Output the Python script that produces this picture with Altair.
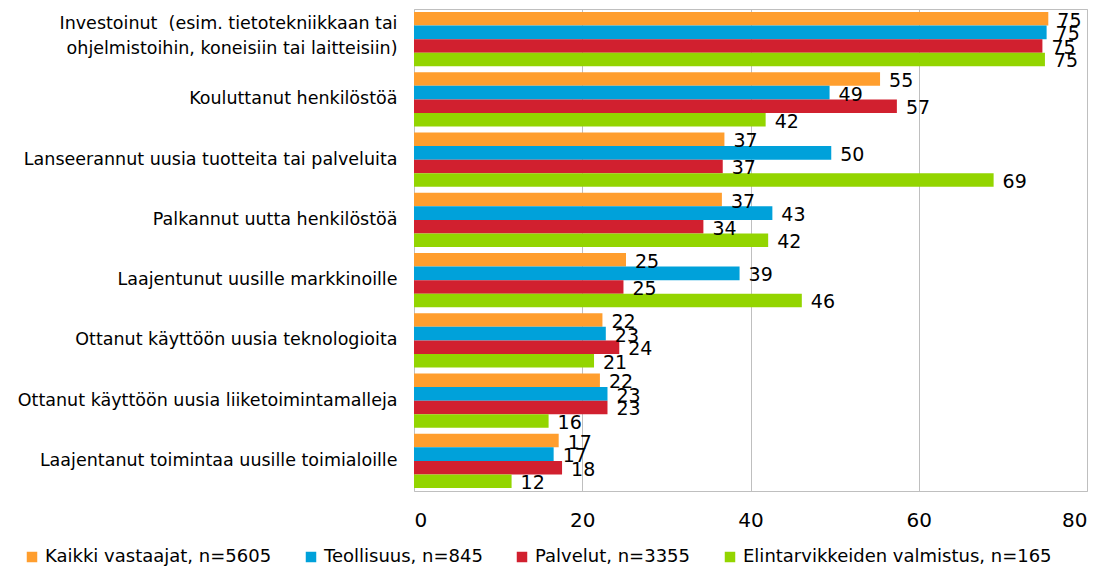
import altair as alt
import pandas as pd

categories = [
    "Investoinut\u00a0 (esim. tietotekniikkaan tai|ohjelmistoihin, koneisiin tai laitteisiin)",
    "Kouluttanut henkilöstöä",
    "Lanseerannut uusia tuotteita tai palveluita",
    "Palkannut uutta henkilöstöä",
    "Laajentunut uusille markkinoille",
    "Ottanut käyttöön uusia teknologioita",
    "Ottanut käyttöön uusia liiketoimintamalleja",
    "Laajentanut toimintaa uusille toimialoille",
]
series_names = [
    "Kaikki vastaajat, n=5605",
    "Teollisuus, n=845",
    "Palvelut, n=3355",
    "Elintarvikkeiden valmistus, n=165",
]
kaikki = [75.4, 55.4, 36.9, 36.6, 25.2, 22.4, 22.1, 17.2]
teollisuus = [75.2, 49.4, 49.6, 42.6, 38.7, 22.8, 23.0, 16.6]
palvelut = [74.7, 57.4, 36.7, 34.4, 24.9, 24.4, 23.0, 17.6]
elintarvike = [75.0, 41.8, 68.9, 42.1, 46.1, 21.4, 16.0, 11.6]
colors = ["#FF9E2E", "#00A1DA", "#D1202F", "#93D500"]

rows = []
for s, vals in zip(series_names, [kaikki, teollisuus, palvelut, elintarvike]):
    for c, v in zip(categories, vals):
        rows.append({"category": c, "series": s, "value": v})
df = pd.DataFrame(rows)

FONT = "DejaVu Sans"

base = alt.Chart(df).encode(
    y=alt.Y(
        "category:N",
        sort=categories,
        title=None,
        scale=alt.Scale(paddingInner=0.1, paddingOuter=0.05),
        axis=alt.Axis(
            labelExpr="split(datum.label, '|')",
            labelFontSize=17.5,
            labelFont=FONT,
            labelColor="#000000",
            labelLimit=0,
            labelPadding=17,
            labelLineHeight=25,
            labelOffset={
                "condition": {"test": "indexof(datum.value, '|') >= 0", "value": -15},
                "value": 0,
            },
            ticks=False,
            domain=False,
            grid=False,
        ),
    ),
    yOffset=alt.YOffset(
        "series:N", sort=series_names, scale=alt.Scale(paddingInner=0, paddingOuter=0)
    ),
    x=alt.X(
        "value:Q",
        title=None,
        scale=alt.Scale(domain=[0, 80], nice=False),
        axis=alt.Axis(
            values=[0, 20, 40, 60, 80],
            labelFontSize=20,
            labelFont=FONT,
            labelColor="#000000",
            labelPadding=19,
            ticks=False,
            domain=False,
            grid=True,
            gridColor="#BFBFBF",
            gridWidth=1,
        ),
    ),
)

bars = base.mark_bar().encode(
    color=alt.Color(
        "series:N",
        sort=series_names,
        scale=alt.Scale(domain=series_names, range=colors),
        legend=alt.Legend(
            title=None,
            orient="none",
            direction="horizontal",
            legendX=-391,
            legendY=539,
            symbolType="square",
            symbolSize=110,
            symbolStrokeWidth=0,
            labelFontSize=18,
            labelFont=FONT,
            labelColor="#000000",
            columnPadding=30,
            labelOffset=4,
            labelLimit=0,
        ),
    )
)

labels = base.mark_text(
    align="left", baseline="middle", dx=9, dy=2, fontSize=19, font=FONT, color="#000000"
).encode(text=alt.Text("value:Q", format=".0f"))

chart = (
    alt.layer(bars, labels)
    .properties(
        width=673,
        height=482,
        autosize=alt.AutoSizeParams(type="none"),
        padding={"left": 406, "top": 1, "right": 16, "bottom": 78},
    )
    .configure_view(stroke="#BFBFBF", strokeWidth=1)
)

chart.save("out.html", embed_options={"renderer": "svg", "actions": False})
